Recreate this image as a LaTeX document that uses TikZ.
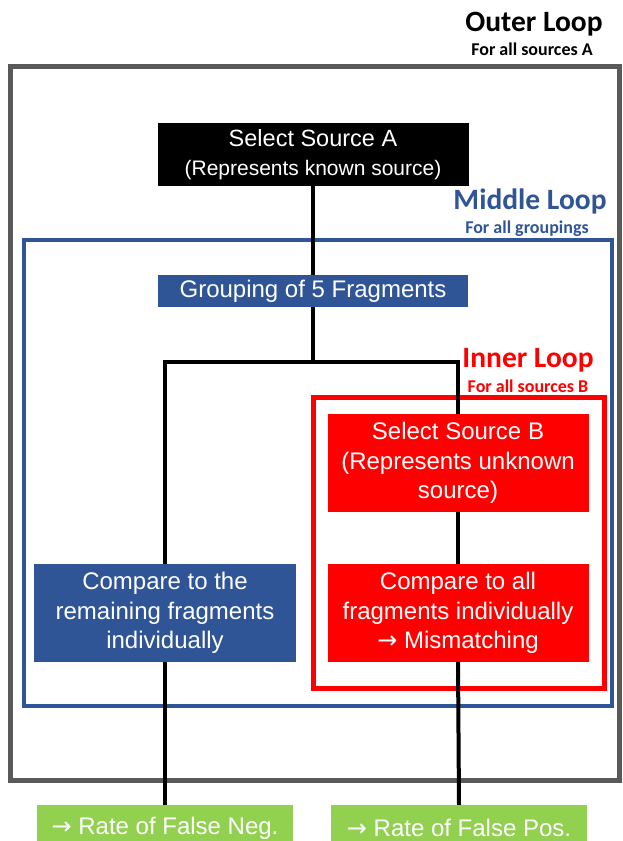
\documentclass[tikz,border=0pt]{standalone}
\usepackage{fontspec}
\setmainfont{Liberation Sans}
\newfontfamily\calib{Carlito}
\newfontfamily\arrowfont{DejaVu Sans}
\newcommand{\rarr}{{\arrowfont\fontsize{24}{29}\selectfont →}}
\definecolor{pblue}{HTML}{2F5597}
\definecolor{pred}{HTML}{FF0000}
\definecolor{pgreen}{HTML}{92D050}
\definecolor{pgray}{HTML}{595959}
\tikzset{
  box/.style={text=white, align=center, inner sep=0pt, font=\fontsize{24}{29.5}\selectfont},
  blackbox/.style={box, fill=black},
  bluebox/.style={box, fill=pblue},
  redbox/.style={box, fill=pred},
  greenbox/.style={box, fill=pgreen},
  conn/.style={line width=4pt, black},
  looptitle/.style={font=\calib\bfseries\fontsize{29.5}{32}\selectfont, inner sep=0pt, anchor=base},
  loopsub/.style={font=\calib\bfseries\fontsize{18}{20}\selectfont, inner sep=0pt, anchor=base},
}
\begin{document}
\begin{tikzpicture}[x=1pt,y=-1pt]
\useasboundingbox (0,0) rectangle (623,841);
% loop frames
\draw[pgray, line width=5pt] (10,66) rectangle (619,780);
\draw[pblue, line width=4pt] (24,240) rectangle (612,706);
\draw[pred, line width=5pt] (313,397) rectangle (604,688);
% titles
\node[looptitle] (outerT) at (534,31) {Outer Loop};
\node[loopsub] (outerS) at (532,55) {For all sources A};
\node[looptitle, text=pblue] (midT) at (530,209) {Middle Loop};
\node[loopsub, text=pblue] (midS) at (527,233) {For all groupings};
\node[looptitle, text=pred] (innT) at (528,367) {Inner Loop};
\node[loopsub, text=pred] (innS) at (528,392) {For all sources B};
% boxes
\node[blackbox, minimum width=311pt, minimum height=63pt] (srcA) at (313,154.5) {{\fontsize{23.5}{24}\selectfont Select Source A}\\[-1pt]{\fontsize{21}{24}\selectfont (Represents known source)}};
\node[bluebox, minimum width=310pt, minimum height=32pt] (grp) at (313,291) {Grouping of 5 Fragments};
\node[redbox, minimum width=261pt, minimum height=98pt] (selB) at (458,463) {Select Source B\\(Represents unknown\\source)};
\node[bluebox, minimum width=262pt, minimum height=98pt] (cmpL) at (165,613) {Compare to the\\remaining fragments\\individually};
\node[redbox, minimum width=261pt, minimum height=98pt] (cmpR) at (458,613) {Compare to all\\fragments individually\\\rarr\ Mismatching};
\node[greenbox, minimum width=256pt, minimum height=46pt] (rateL) at (165,828) {\rarr\ Rate of False Neg.};
\node[greenbox, minimum width=256pt, minimum height=46pt] (rateR) at (459,828) {\rarr\ Rate of False Pos.};
\coordinate (j) at (313,362);
% connectors
\draw[conn] (srcA.south) -- (grp.north);
\draw[conn] (grp.south) -- (j);
\draw[conn] (cmpL.north) |- (j) -| (selB.north);
\draw[conn] (selB.south) -- (cmpR.north);
\draw[conn] (cmpL.south) -- (rateL.north);
\draw[conn] (cmpR.south) -- (rateR.north);
\end{tikzpicture}
\end{document}
